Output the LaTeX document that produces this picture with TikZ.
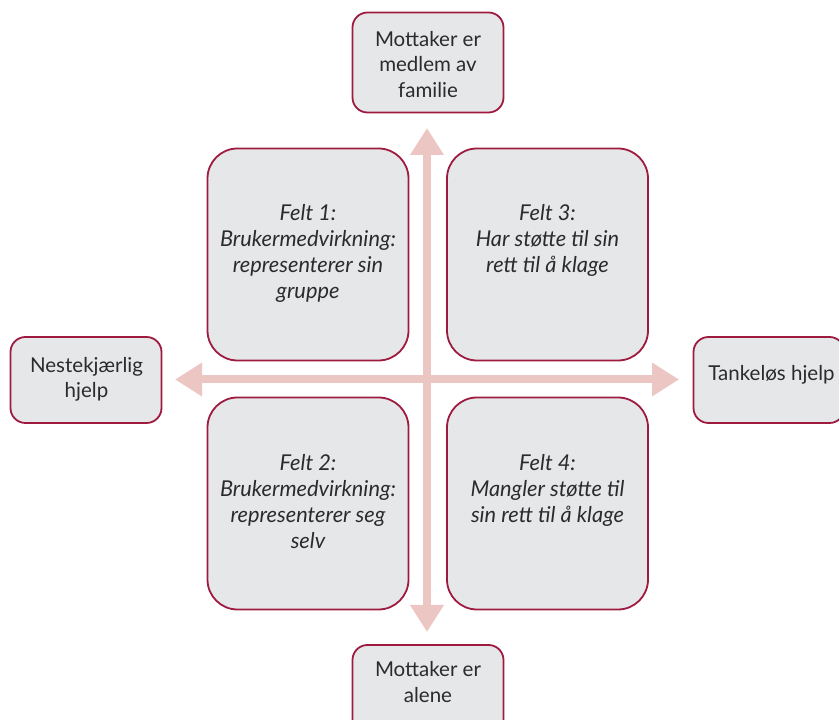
\documentclass[tikz,border=0pt]{standalone}
\usepackage{fontspec}
\setmainfont{Lato}
\usetikzlibrary{arrows.meta}
\definecolor{bord}{HTML}{9E1B3F}
\definecolor{boxfill}{HTML}{E6E7E9}
\definecolor{arrowpink}{HTML}{EBC6C3}
\definecolor{txt}{HTML}{2B2B2B}
\begin{document}
\begin{tikzpicture}[x=1pt,y=1pt,
  box/.style={draw=bord,line width=1.8pt,fill=boxfill,rounded corners=15pt,inner sep=0pt},
  quad/.style={box,rounded corners=30pt,minimum width=201pt,minimum height=212pt},
  side/.style={box,minimum width=151pt},
  lbl/.style={anchor=north,inner sep=0pt,align=center,text=txt,font=\fontsize{20.5}{25.5}\selectfont},
  qlbl/.style={lbl,font=\fontsize{21.8}{26}\selectfont\itshape},
  axis/.style={draw=arrowpink,line width=8pt,{Triangle[width=32pt,length=27pt]}-{Triangle[width=32pt,length=27pt]}}
]
\useasboundingbox (0,0) rectangle (839,720);
% side boxes
\node[side,minimum height=100pt] (top) at (428,657.5) {};
\node[side,minimum height=86pt] (left) at (86,340) {};
\node[side,minimum height=86pt] (right) at (769,340) {};
\node[side,minimum height=100pt] (bottom) at (428,25) {};
% quadrant boxes
\node[quad] (f1) at (308,465.5) {};
\node[quad] (f3) at (547.5,465.5) {};
\node[quad] (f2) at (308,216.5) {};
\node[quad] (f4) at (547.5,216.5) {};
% axes
\coordinate (ytop) at (427,592);
\coordinate (ybot) at (427,88);
\coordinate (xl) at (175,340.5);
\coordinate (xr) at (679,340.5);
\draw[axis] (ybot) -- (ytop);
\draw[axis] (xl) -- (xr);
% labels
\node[lbl] (ttop) at (428,689) {Mottaker er\\medlem av\\familie};
\node[lbl] (tleft) at (86.5,363) {Nestekjærlig\\hjelp};
\node[lbl] (tright) at (771.5,355) {Tankeløs hjelp};
\node[lbl] (tbottom) at (428,58.5) {Mottaker er\\alene};
\node[qlbl] (t1) at (308,515.5) {Felt 1:\\Brukermedvirkning:\\representerer sin\\gruppe};
\node[qlbl] (t3) at (547.5,515.5) {Felt 3:\\Har støtte til sin\\rett til å klage};
\node[qlbl] (t2) at (308,265.5) {Felt 2:\\Brukermedvirkning:\\representerer seg\\selv};
\node[qlbl] (t4) at (547.5,265.5) {Felt 4:\\Mangler støtte til\\sin rett til å klage};
\end{tikzpicture}
\end{document}
